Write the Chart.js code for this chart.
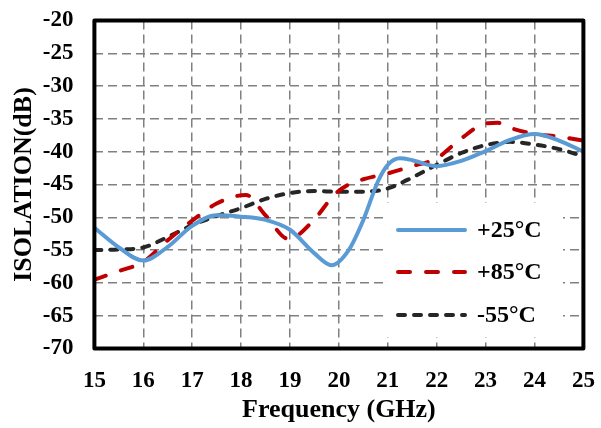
<!DOCTYPE html>
<html>
<head>
<meta charset="utf-8">
<script src="https://cdn.jsdelivr.net/npm/chart.js@4/dist/chart.umd.min.js"></script>
<style>
  html, body { margin: 0; padding: 0; background: #fff; }
  #wrap { width: 601px; height: 428px; position: relative; }
</style>
</head>
<body>
<div id="wrap"><canvas id="c" width="601" height="428"></canvas></div>
<script>
const xTicks = [15, 16, 17, 18, 19, 20, 21, 22, 23, 24, 25];
const yTicks = [-70, -65, -60, -55, -50, -45, -40, -35, -30, -25, -20];

const freq25 = [15, 15.5, 16, 16.5, 17, 17.5, 18, 18.5, 19, 19.5, 19.85, 20.2, 20.5, 20.8, 21.0, 21.25, 21.5, 22, 22.5, 23, 23.5, 24, 24.5, 25];
const iso25  = [-51.6, -54.6, -56.6, -54.5, -51.3, -49.7, -49.9, -50.4, -51.9, -55.5, -57.3, -55.0, -50.4, -44.5, -42.0, -41.0, -41.3, -42.2, -41.4, -39.9, -38.2, -37.3, -38.3, -40.0];

const freq85 = [15, 15.5, 16, 16.5, 17, 17.5, 18.1, 18.5, 18.97, 19.5, 19.9, 20.2, 20.5, 21, 21.5, 22, 22.5, 23, 23.25, 23.6, 24, 24.5, 25];
const iso85  = [-59.5, -58.2, -56.8, -53.5, -50.5, -47.9, -46.6, -49.7, -53.3, -50.3, -46.6, -45.0, -44.2, -43.3, -42.2, -41.0, -38.0, -35.7, -35.6, -36.6, -37.3, -37.7, -38.3];

const freq55 = [15, 15.5, 16, 16.5, 17, 17.5, 18, 18.5, 19, 19.5, 20, 20.5, 21, 21.4, 22, 22.5, 23, 23.5, 24, 24.5, 25];
const iso55  = [-55.0, -54.9, -54.6, -53.0, -51.2, -49.8, -48.6, -47.2, -46.3, -46.0, -46.1, -46.1, -45.6, -44.3, -42.0, -40.2, -39.0, -38.5, -38.9, -39.6, -40.7];

const seriesNames = ['+25°C', '+85°C', '-55°C'];

const toPts = (xs, ys) => xs.map((x, i) => ({ x: x, y: ys[i] }));
const FONT = "'Liberation Serif', 'Times New Roman', serif";

const framePlugin = {
  id: 'frame',
  afterDatasetsDraw(chart) {
    const { ctx, chartArea: a } = chart;
    ctx.save();
    const lx = 387, ly = 203, lw = 176, lh = 134;
    ctx.fillStyle = '#ffffff';
    ctx.fillRect(lx, ly, lw, lh);
    const ds = chart.data.datasets;
    const rows = [230, 272, 315];
    ds.forEach((d, i) => {
      ctx.beginPath();
      ctx.strokeStyle = d.borderColor;
      ctx.lineWidth = d.borderWidth;
      ctx.lineCap = 'round';
      ctx.setLineDash(d.borderDash || []);
      ctx.moveTo(398, rows[i]);
      ctx.lineTo(465, rows[i]);
      ctx.stroke();
      ctx.setLineDash([]);
      ctx.fillStyle = '#000';
      ctx.font = "bold 24px " + FONT;
      ctx.textBaseline = 'middle';
      ctx.textAlign = 'left';
      ctx.fillText(d.label, 477, rows[i] + 1);
    });
    ctx.setLineDash([]);
    ctx.lineCap = 'butt';
    ctx.lineJoin = 'round';
    ctx.strokeStyle = '#000';
    ctx.lineWidth = 4;
    ctx.strokeRect(a.left, a.top, a.right - a.left, a.bottom - a.top);
    ctx.restore();
  }
};

new Chart(document.getElementById('c'), {
  type: 'line',
  data: {
    datasets: [
      { label: seriesNames[0], data: toPts(freq25, iso25), borderColor: '#5B9BD5', borderWidth: 4, borderDash: [], borderCapStyle: 'round', pointRadius: 0, cubicInterpolationMode: 'monotone', fill: false },
      { label: seriesNames[1], data: toPts(freq85, iso85), borderColor: '#C00000', borderWidth: 4, borderDash: [12, 16], borderCapStyle: 'round', pointRadius: 0, cubicInterpolationMode: 'monotone', fill: false },
      { label: seriesNames[2], data: toPts(freq55, iso55), borderColor: '#262626', borderWidth: 4, borderDash: [7, 9], borderCapStyle: 'round', pointRadius: 0, cubicInterpolationMode: 'monotone', fill: false }
    ]
  },
  options: {
    responsive: false,
    animation: false,
    layout: { padding: { left: 0, right: 17.6, top: 20.5, bottom: 0 } },
    plugins: { legend: { display: false }, tooltip: { enabled: false } },
    scales: {
      x: {
        type: 'linear', min: 15, max: 25,
        afterBuildTicks: (s) => { s.ticks = xTicks.map(v => ({ value: v })); },
        afterFit: (s) => { s.height = 79.5; s.paddingLeft = 0; s.paddingRight = 0; },
        grid: { color: '#808080', lineWidth: 1.5, drawTicks: false },
        border: { display: false, dash: [9, 5] },
        ticks: { color: '#000', font: { family: FONT, size: 23, weight: 'bold' }, padding: 19, maxRotation: 0 },
        title: { display: true, text: 'Frequency (GHz)', color: '#000', font: { family: FONT, size: 26, weight: 'bold' }, padding: { top: 0, bottom: 2 } }
      },
      y: {
        type: 'linear', min: -70, max: -20,
        afterBuildTicks: (s) => { s.ticks = yTicks.map(v => ({ value: v })); },
        afterFit: (s) => { s.width = 94.4; s.paddingTop = 0; s.paddingBottom = 0; },
        grid: { color: '#808080', lineWidth: 1.5, drawTicks: false },
        border: { display: false, dash: [9, 5] },
        ticks: { color: '#000', font: { family: FONT, size: 23, weight: 'bold' }, padding: 21 },
        title: { display: true, text: 'ISOLATION(dB)', color: '#000', font: { family: FONT, size: 26, weight: 'bold' }, padding: { top: 9, bottom: 0 } }
      }
    }
  },
  plugins: [framePlugin]
});
</script>
</body>
</html>
